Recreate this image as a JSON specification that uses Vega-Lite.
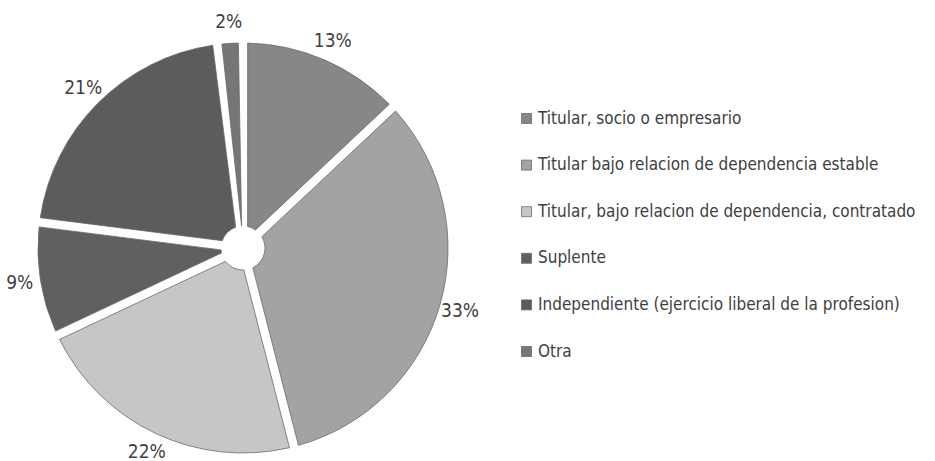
{
  "$schema": "https://vega.github.io/schema/vega-lite/v6.json",
  "autosize": {"type": "none"},
  "width": 450,
  "height": 420,
  "padding": {"left": 18, "top": 38, "right": 467, "bottom": 3},
  "background": "white",
  "config": {"view": {"stroke": null}, "font": "DejaVu Sans Condensed, DejaVu Sans"},
  "data": {
    "values": [
      {"orden": 1, "categoria": "Titular, socio o empresario", "share": 0.13},
      {"orden": 2, "categoria": "Titular bajo relacion de dependencia estable", "share": 0.33},
      {"orden": 3, "categoria": "Titular, bajo relacion de dependencia, contratado", "share": 0.22},
      {"orden": 4, "categoria": "Suplente", "share": 0.09},
      {"orden": 5, "categoria": "Independiente (ejercicio liberal de la profesion)", "share": 0.21},
      {"orden": 6, "categoria": "Otra", "share": 0.02}
    ]
  },
  "encoding": {
    "theta": {"field": "share", "type": "quantitative", "stack": true},
    "order": {"field": "orden", "type": "quantitative"}
  },
  "layer": [
    {
      "mark": {"type": "arc", "outerRadius": 205, "innerRadius": 22, "padAngle": 0.045, "stroke": "#6a6a6a", "strokeWidth": 0.8},
      "encoding": {
        "color": {
          "field": "categoria",
          "type": "nominal",
          "scale": {
            "domain": [
              "Titular, socio o empresario",
              "Titular bajo relacion de dependencia estable",
              "Titular, bajo relacion de dependencia, contratado",
              "Suplente",
              "Independiente (ejercicio liberal de la profesion)",
              "Otra"
            ],
            "range": ["#878787", "#a3a3a3", "#c6c6c6", "#606060", "#5c5c5c", "#767676"]
          },
          "legend": {
            "title": null,
            "orient": "none",
            "legendX": 500,
            "legendY": 72,
            "symbolType": "square",
            "symbolSize": 100,
            "symbolStrokeColor": "#6a6a6a",
            "symbolStrokeWidth": 0.8,
            "labelFont": "DejaVu Sans Condensed, DejaVu Sans",
            "labelFontSize": 17,
            "labelColor": "#404040",
            "labelOffset": 3,
            "labelLimit": 500,
            "rowPadding": 28.6
          }
        }
      }
    },
    {
      "mark": {"type": "text", "radius": 226, "fontSize": 19, "fill": "#404040"},
      "encoding": {
        "text": {"field": "share", "type": "quantitative", "format": ".0%"}
      }
    }
  ]
}
